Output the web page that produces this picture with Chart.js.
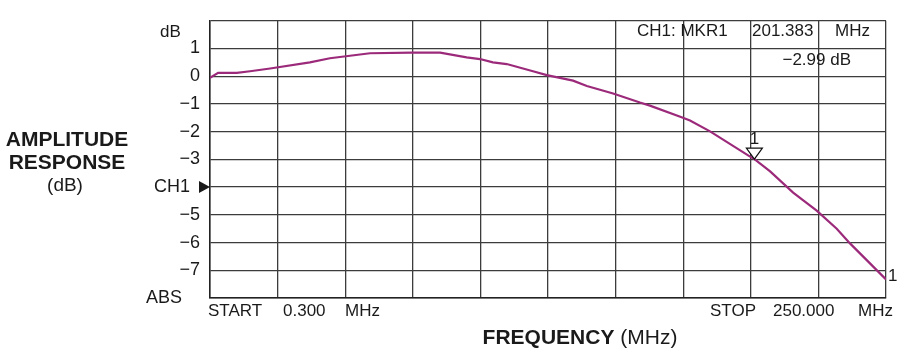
<!DOCTYPE html>
<html>
<head>
<meta charset="utf-8">
<script src="https://cdn.jsdelivr.net/npm/chart.js@4"></script>
<style>
  body { margin: 0; background: #fff; }
  #wrap { width: 904px; height: 355px; }
</style>
</head>
<body>
<div id="wrap"><canvas id="FreqChart"></canvas></div>
<script>
// trace (MHz, dB)
const freqs = [0.3, 3.3, 10.2, 15.1, 22.5, 37.2, 44.6, 52.0, 59.4, 74.9, 85.3, 95.1, 100.0, 104.8, 109.9,
    119.6, 124.7, 134.4, 139.5, 149.2, 159.1, 162.8, 174.5, 177.6, 185.0, 199.8, 201.4, 207.2, 215.7,
    224.4, 231.8, 236.7, 250.0];
const gainDb = [-0.06, 0.12, 0.12, 0.18, 0.28, 0.50, 0.65, 0.74, 0.83, 0.85, 0.85, 0.68, 0.62, 0.50, 0.44,
    0.18, 0.04, -0.16, -0.35, -0.62, -0.95, -1.06, -1.48, -1.60, -1.99, -2.90, -2.99, -3.43, -4.20,
    -4.85, -5.50, -6.03, -7.33];
const yTicks = [2, 1, 0, -1, -2, -3, -4, -5, -6, -7, -8];
const startMHz = 0.3;
const stopMHz = 250;
const markerMHz = 201.383;
const markerDb = -2.99;

const font = "'Liberation Sans', Arial, sans-serif";

const labelsPlugin = {
    id: 'labels',
    afterDraw(chart) {
        const c = chart.ctx;
        const xs = chart.scales.x, ys = chart.scales.y;
        const area = chart.chartArea;
        c.save();
        c.fillStyle = '#1a1a1a';
        c.textBaseline = 'middle';

        // y axis title
        c.textAlign = 'center';
        c.font = 'bold 21px ' + font;
        c.fillText('AMPLITUDE', 67, 140);
        c.fillText('RESPONSE', 67, 163);
        c.font = '19px ' + font;
        c.fillText('(dB)', 65, 186);

        // unit at top of the scale, ABS at the bottom
        c.textAlign = 'left';
        c.font = '17px ' + font;
        c.fillText('dB', 160, 32);
        c.textAlign = 'right';
        c.font = '18px ' + font;
        c.fillText('ABS', 182, ys.getPixelForValue(-8));

        // CH1 reference arrow
        const yRef = ys.getPixelForValue(-4);
        c.beginPath();
        c.moveTo(area.left - 11, yRef - 6);
        c.lineTo(area.left, yRef);
        c.lineTo(area.left - 11, yRef + 6);
        c.closePath();
        c.fill();

        // start / stop
        c.textAlign = 'left';
        c.font = '17px ' + font;
        c.fillText('START', 208, 311);
        c.fillText('0.300', 283, 311);
        c.fillText('MHz', 345, 311);
        c.fillText('STOP', 710, 311);
        c.fillText('250.000', 773, 311);
        c.fillText('MHz', 858, 311);

        // x axis title
        c.font = 'bold 21px ' + font;
        const t1 = 'FREQUENCY';
        const w1 = c.measureText(t1).width;
        c.font = '21px ' + font;
        const t2 = ' (MHz)';
        const w2 = c.measureText(t2).width;
        const x0 = 580 - (w1 + w2) / 2;
        c.font = 'bold 21px ' + font;
        c.fillText(t1, x0, 338);
        c.font = '21px ' + font;
        c.fillText(t2, x0 + w1, 338);

        // marker readout
        c.font = '17px ' + font;
        c.fillText('CH1: MKR1', 637, 31);
        c.fillText('201.383', 752, 31);
        c.fillText('MHz', 835, 31);
        c.textAlign = 'right';
        c.fillText('\u22122.99 dB', 851, 60);

        // marker triangle
        const mx = xs.getPixelForValue(markerMHz);
        const my = ys.getPixelForValue(markerDb);
        c.beginPath();
        c.moveTo(mx, my);
        c.lineTo(mx - 8, my - 11);
        c.lineTo(mx + 8, my - 11);
        c.closePath();
        c.fillStyle = '#fff';
        c.fill();
        c.strokeStyle = '#111';
        c.lineWidth = 1.2;
        c.stroke();
        c.fillStyle = '#1a1a1a';
        c.textAlign = 'center';
        c.font = '17px ' + font;
        c.fillText('1', mx, my - 20);

        // trace end label
        const ex = xs.getPixelForValue(stopMHz);
        const ey = ys.getPixelForValue(gainDb[gainDb.length - 1]);
        c.textAlign = 'left';
        c.fillText('1', ex + 2, ey - 3);
        c.restore();
    }
};

const ctx = document.getElementById('FreqChart');
new Chart(ctx, {
    type: 'line',
    data: {
        datasets: [{
            label: 'CH1',
            data: freqs.map((f, i) => ({ x: f, y: gainDb[i] })),
            borderColor: '#9c2a7b',
            borderWidth: 2.2,
            pointRadius: 0,
            tension: 0
        }]
    },
    options: {
        responsive: true,
        maintainAspectRatio: false,
        animation: false,
        layout: { padding: { top: 17, right: 18, left: 0, bottom: 0 } },
        plugins: { legend: { display: false }, tooltip: { enabled: false } },
        scales: {
            x: {
                type: 'linear',
                min: startMHz,
                max: stopMHz,
                afterBuildTicks: (scale) => {
                    scale.ticks = [];
                    for (let i = 0; i <= 10; i++) scale.ticks.push({ value: startMHz + i * (stopMHz - startMHz) / 10 });
                },
                afterFit: (scale) => { scale.height = 57; },
                ticks: { display: false },
                grid: { color: '#3c3c3c', lineWidth: 1.3, drawTicks: false },
                border: { color: '#222', width: 1.5 }
            },
            y: {
                min: -8,
                max: 2,
                afterBuildTicks: (scale) => {
                    scale.ticks = yTicks.map(v => ({ value: v }));
                },
                afterFit: (scale) => { scale.width = 210; },
                ticks: {
                    padding: 10,
                    color: '#1a1a1a',
                    font: { family: font, size: 18 },
                    callback: (v) => {
                        if (v === 2 || v === -8) return '';
                        if (v === -4) return 'CH1  ';
                        return v < 0 ? '\u2212' + Math.abs(v) : String(v);
                    }
                },
                grid: { color: '#3c3c3c', lineWidth: 1.3, drawTicks: false },
                border: { color: '#222', width: 1.5 }
            }
        }
    },
    plugins: [labelsPlugin]
});
</script>
</body>
</html>
